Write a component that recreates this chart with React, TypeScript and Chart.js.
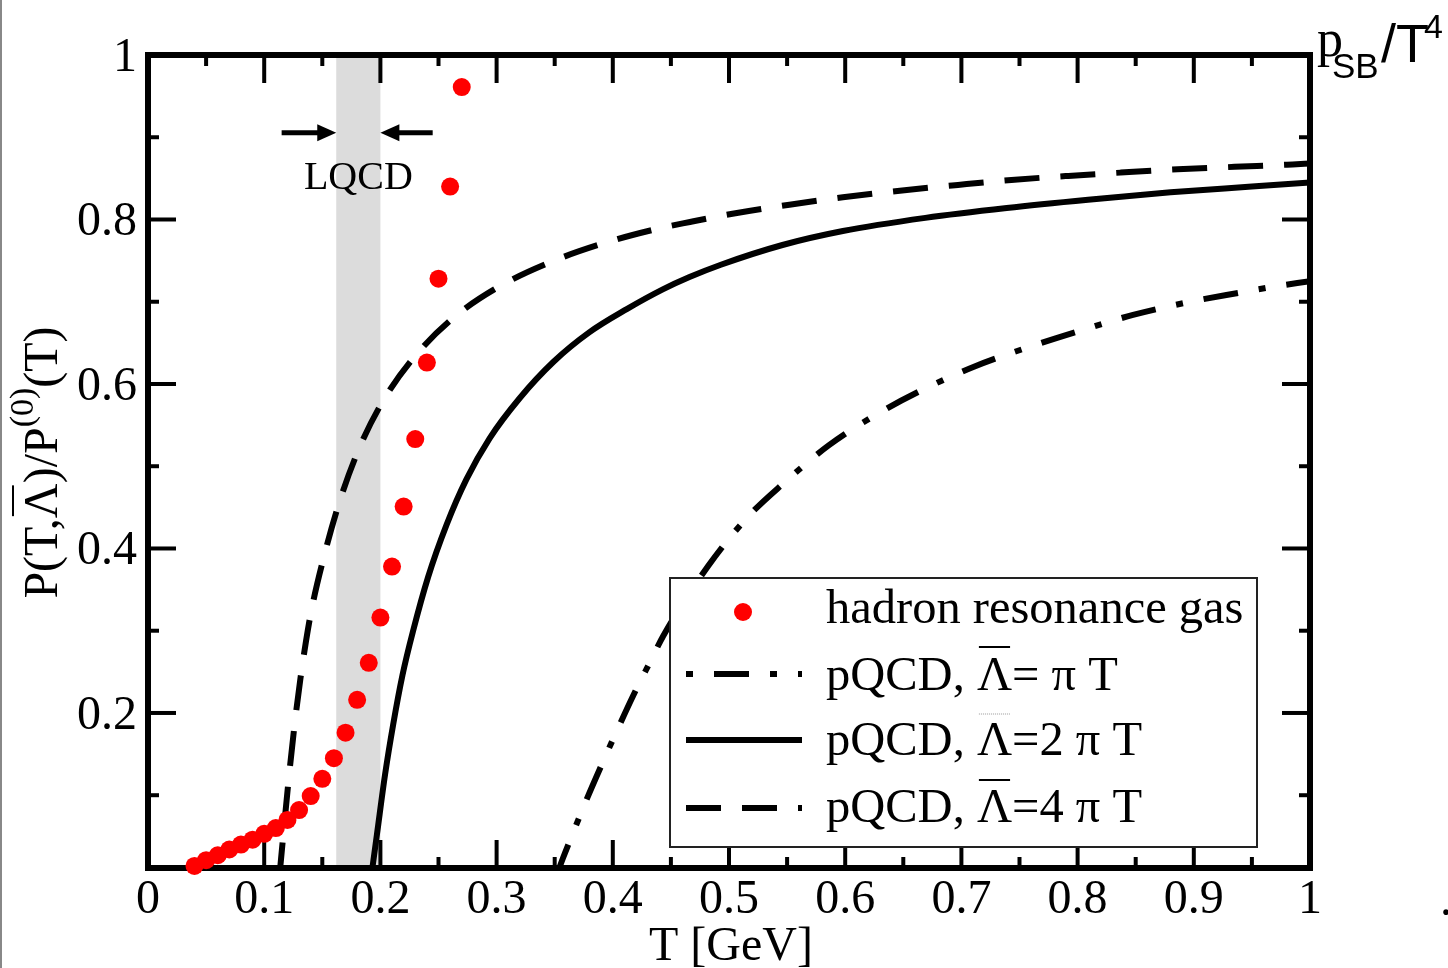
import React, { useEffect, useRef } from "react";
import { Chart, registerables } from "chart.js";

Chart.register(...registerables);

// ---------------- data ----------------
const HRG_T = [0.04, 0.05, 0.06, 0.07, 0.08, 0.09, 0.10, 0.11, 0.12, 0.13, 0.14, 0.15, 0.16, 0.17, 0.18, 0.19, 0.20, 0.21, 0.22, 0.23, 0.24, 0.25, 0.26, 0.27];
const HRG_P = [0.014, 0.021, 0.027, 0.034, 0.040, 0.046, 0.053, 0.060, 0.070, 0.082, 0.099, 0.120, 0.145, 0.176, 0.216, 0.261, 0.316, 0.378, 0.451, 0.533, 0.626, 0.728, 0.840, 0.961];

const PQCD1_T = [0.351, 0.357, 0.366, 0.3775, 0.3904, 0.4034, 0.4175, 0.4335, 0.4435, 0.4822, 0.5166, 0.5467, 0.5855, 0.6282, 0.6652, 0.7108, 0.7582, 0.8003, 0.8477, 0.8971, 0.9393, 0.9673, 1.0];
const PQCD1_P = [0.0, 0.023, 0.055, 0.095, 0.137, 0.178, 0.221, 0.266, 0.294, 0.379, 0.439, 0.479, 0.525, 0.564, 0.592, 0.621, 0.645, 0.664, 0.684, 0.700, 0.711, 0.718, 0.725];

const PQCD2_T = [0.192, 0.197, 0.204, 0.211, 0.219, 0.228, 0.241, 0.257, 0.274, 0.294, 0.320, 0.349, 0.380, 0.412, 0.443, 0.466, 0.493, 0.546, 0.598, 0.669, 0.739, 0.809, 0.880, 0.950, 1.0];
const PQCD2_P = [0.0, 0.052, 0.125, 0.186, 0.246, 0.299, 0.365, 0.429, 0.484, 0.534, 0.583, 0.627, 0.663, 0.691, 0.715, 0.730, 0.745, 0.769, 0.786, 0.802, 0.814, 0.824, 0.833, 0.840, 0.845];

const PQCD4_T = [0.113, 0.1175, 0.1215, 0.1265, 0.131, 0.136, 0.141, 0.1523, 0.1653, 0.1818, 0.2025, 0.2298, 0.2642, 0.3029, 0.346, 0.3918, 0.4392, 0.4664, 0.503, 0.552, 0.598, 0.647, 0.697, 0.743, 0.792, 0.837, 0.886, 0.935, 0.985, 1.0];
const PQCD4_P = [0.0, 0.0675, 0.1255, 0.19, 0.240, 0.2875, 0.3275, 0.395, 0.459, 0.522, 0.580, 0.634, 0.682, 0.719, 0.748, 0.771, 0.789, 0.797, 0.807, 0.818, 0.827, 0.835, 0.842, 0.848, 0.853, 0.857, 0.861, 0.864, 0.867, 0.868];

const X_MAJOR = [0, 0.1, 0.2, 0.3, 0.4, 0.5, 0.6, 0.7, 0.8, 0.9, 1.0];
const X_LABELS = ["0", "0.1", "0.2", "0.3", "0.4", "0.5", "0.6", "0.7", "0.8", "0.9", "1"];
const X_MINOR = [0.05, 0.15, 0.25, 0.35, 0.45, 0.55, 0.65, 0.75, 0.85, 0.95];
const Y_MAJOR = [0.2, 0.4, 0.6, 0.8, 1.0];
const Y_LABELS = ["0.2", "0.4", "0.6", "0.8", "1"];
const Y_MINOR = [0.1, 0.3, 0.5, 0.7, 0.9];

const LQCD_BAND = [0.162, 0.2];
const LQCD_ARROWS = [0.115, 0.245];
const LQCD_ARROW_Y = 0.9055;
const LQCD_TEXT_Y = 0.837;

const X_MIN = 0;
const X_MAX = 1;
const Y_MIN = 0.0115;
const Y_MAX = 1;

const SERIF = '"Liberation Serif", "Times New Roman", Times, serif';
const SANS = '"Liberation Sans", Arial, Helvetica, sans-serif';

const DASH = [35, 21];
const DASHDOT = [35, 21, 7, 21];

const pts = (xs: number[], ys: number[]) => xs.map((x, i) => ({ x, y: ys[i] }));

function drawLambdaText(ctx: any, pre: string, post: string, x: number, y: number, overOff: number, dotted = false) {
  ctx.fillText(pre, x, y);
  const w1 = ctx.measureText(pre).width;
  const lx = x + w1;
  ctx.fillText("\u039B", lx, y);
  const lw = ctx.measureText("\u039B").width;
  ctx.fillText(post, lx + lw, y);
  ctx.save();
  ctx.beginPath();
  if (dotted) {
    ctx.strokeStyle = "#999";
    ctx.lineWidth = 1;
    ctx.setLineDash([1, 1]);
  } else {
    ctx.strokeStyle = "#000";
    ctx.lineWidth = 2;
  }
  ctx.moveTo(lx + 2, y - overOff);
  ctx.lineTo(lx + lw - 2, y - overOff);
  ctx.stroke();
  ctx.restore();
}

const decor = {
  id: "decor",
  beforeDatasetsDraw(chart: any) {
    const { ctx, chartArea: a, scales } = chart;
    const x = scales.x, y = scales.y;
    ctx.save();
    // LQCD band
    const bx0 = x.getPixelForValue(LQCD_BAND[0]);
    const bx1 = x.getPixelForValue(LQCD_BAND[1]);
    ctx.fillStyle = "#dcdcdc";
    ctx.fillRect(bx0, a.top, bx1 - bx0, a.bottom - a.top);

    // frame
    ctx.strokeStyle = "#000";
    ctx.lineWidth = 6;
    ctx.lineJoin = "miter";
    ctx.strokeRect(a.left, a.top, a.right - a.left, a.bottom - a.top);

    // ticks
    ctx.lineWidth = 4;
    ctx.lineCap = "butt";
    const seg = (x1: number, y1: number, x2: number, y2: number) => {
      ctx.beginPath();
      ctx.moveTo(x1, y1);
      ctx.lineTo(x2, y2);
      ctx.stroke();
    };
    X_MAJOR.forEach((v) => {
      const px = x.getPixelForValue(v);
      seg(px, a.bottom, px, a.bottom - 28);
      seg(px, a.top, px, a.top + 28);
    });
    X_MINOR.forEach((v) => {
      const px = x.getPixelForValue(v);
      seg(px, a.bottom, px, a.bottom - 11);
      seg(px, a.top, px, a.top + 11);
    });
    Y_MAJOR.forEach((v) => {
      const py = y.getPixelForValue(v);
      seg(a.left, py, a.left + 28, py);
      seg(a.right, py, a.right - 28, py);
    });
    Y_MINOR.forEach((v) => {
      const py = y.getPixelForValue(v);
      seg(a.left, py, a.left + 11, py);
      seg(a.right, py, a.right - 11, py);
    });

    // arrows
    const ay = y.getPixelForValue(LQCD_ARROW_Y);
    const la = x.getPixelForValue(LQCD_ARROWS[0]);
    const ra = x.getPixelForValue(LQCD_ARROWS[1]);
    ctx.fillStyle = "#000";
    ctx.lineWidth = 5;
    seg(la, ay, bx0 - 16, ay);
    ctx.beginPath();
    ctx.moveTo(bx0, ay);
    ctx.lineTo(bx0 - 19, ay - 8.5);
    ctx.lineTo(bx0 - 19, ay + 8.5);
    ctx.closePath();
    ctx.fill();
    seg(ra, ay, bx1 + 16, ay);
    ctx.beginPath();
    ctx.moveTo(bx1, ay);
    ctx.lineTo(bx1 + 19, ay - 8.5);
    ctx.lineTo(bx1 + 19, ay + 8.5);
    ctx.closePath();
    ctx.fill();

    // LQCD label
    ctx.font = `40px ${SERIF}`;
    ctx.textAlign = "center";
    ctx.textBaseline = "alphabetic";
    ctx.fillText("LQCD", (bx0 + bx1) / 2, y.getPixelForValue(LQCD_TEXT_Y));
    ctx.restore();
  },
  afterDatasetsDraw(chart: any) {
    const { ctx, chartArea: a } = chart;
    ctx.save();
    const L = a.left + 522, T = a.top + 523, R = a.right - 53, B = a.bottom - 21;
    ctx.fillStyle = "#fff";
    ctx.fillRect(L, T, R - L, B - T);
    ctx.strokeStyle = "#222";
    ctx.lineWidth = 2;
    ctx.strokeRect(L, T, R - L, B - T);

    const sx0 = L + 16, sx1 = L + 132, tx = L + 156;
    const bases = [T + 45, T + 112, T + 177, T + 244];
    // row 1: dot
    ctx.fillStyle = "#ff0000";
    ctx.beginPath();
    ctx.arc(L + 73, T + 34, 9, 0, Math.PI * 2);
    ctx.fill();
    // rows 2-4: line samples
    ctx.strokeStyle = "#000";
    ctx.lineWidth = 6;
    ctx.lineCap = "butt";
    const sample = (yy: number, dash: number[]) => {
      ctx.setLineDash(dash);
      ctx.lineDashOffset = 0;
      ctx.beginPath();
      ctx.moveTo(sx0, yy);
      ctx.lineTo(sx1, yy);
      ctx.stroke();
    };
    sample(T + 96, [7, 21, 35, 21]);
    sample(T + 162, []);
    sample(T + 230, DASH);
    ctx.setLineDash([]);

    ctx.fillStyle = "#000";
    ctx.font = `48.5px ${SERIF}`;
    ctx.textAlign = "left";
    ctx.textBaseline = "alphabetic";
    ctx.fillText("hadron resonance gas", tx, bases[0]);
    drawLambdaText(ctx, "pQCD, ", "= \u03C0 T", tx, bases[1], 43);
    drawLambdaText(ctx, "pQCD, ", "=2 \u03C0 T", tx, bases[2], 41, true);
    drawLambdaText(ctx, "pQCD, ", "=4 \u03C0 T", tx, bases[3], 42);
    ctx.restore();
  },
  afterDraw(chart: any) {
    const { ctx, chartArea: a, scales } = chart;
    const x = scales.x, y = scales.y;
    ctx.save();
    ctx.fillStyle = "#000";
    ctx.font = `48px ${SERIF}`;
    ctx.textBaseline = "alphabetic";
    // x tick labels
    ctx.textAlign = "center";
    X_MAJOR.forEach((v, i) => ctx.fillText(X_LABELS[i], x.getPixelForValue(v), a.bottom + 45));
    // y tick labels
    ctx.textAlign = "right";
    Y_MAJOR.forEach((v, i) => ctx.fillText(Y_LABELS[i], a.left - 11, y.getPixelForValue(v) + 16));
    // x title
    ctx.textAlign = "center";
    ctx.fillText("T [GeV]", x.getPixelForValue(0.5) + 2, a.bottom + 92);

    // y title (rotated)
    ctx.save();
    ctx.textAlign = "left";
    const big = `48px ${SERIF}`, small = `34px ${SERIF}`;
    ctx.font = big;
    const wA = ctx.measureText("P(T,").width;
    const wL = ctx.measureText("\u039B").width;
    const wB = ctx.measureText(")/P").width;
    const wD = ctx.measureText("(T)").width;
    ctx.font = small;
    const wC = ctx.measureText("(0)").width;
    const total = wA + wL + wB + wC + wD;
    const cy = (a.top + a.bottom) / 2 + 1;
    ctx.translate(57, cy + total / 2);
    ctx.rotate(-Math.PI / 2);
    ctx.font = big;
    let cx = 0;
    ctx.fillText("P(T,", cx, 0); cx += wA;
    ctx.fillText("\u039B", cx, 0);
    ctx.fillRect(cx + 2, -45, wL - 4, 2);
    cx += wL;
    ctx.fillText(")/P", cx, 0); cx += wB;
    ctx.font = small;
    ctx.fillText("(0)", cx, -24); cx += wC;
    ctx.font = big;
    ctx.fillText("(T)", cx, 0);
    ctx.restore();

    // right-top label p_SB / T^4
    ctx.textAlign = "left";
    ctx.font = `52px ${SERIF}`;
    ctx.fillText("p", a.right + 7, 56);
    ctx.font = `35px ${SANS}`;
    ctx.fillText("SB", a.right + 22, 78);
    ctx.font = `54px ${SANS}`;
    ctx.fillText("/T", a.right + 71, 62);
    ctx.font = `34px ${SANS}`;
    ctx.fillText("4", a.right + 114, 38);

    // stray marks of the original figure
    ctx.font = `48px ${SERIF}`;
    ctx.fillText(".", 1440, 915);
    ctx.fillStyle = "#888";
    ctx.fillRect(0, 0, 2, chart.height);
    ctx.restore();
  },
};

export default function App() {
  const ref = useRef<HTMLCanvasElement | null>(null);
  useEffect(() => {
    if (!ref.current) return;
    const lineBase = {
      showLine: true,
      borderColor: "#000",
      backgroundColor: "#000",
      borderWidth: 6,
      pointRadius: 0,
      pointHoverRadius: 0,
      cubicInterpolationMode: "monotone",
      borderCapStyle: "butt",
      fill: false,
    };
    const chart = new Chart(ref.current, {
      type: "scatter",
      data: {
        datasets: [
          {
            label: "hadron resonance gas",
            data: pts(HRG_T, HRG_P),
            showLine: false,
            pointRadius: 9,
            pointBackgroundColor: "#ff0000",
            pointBorderColor: "#ff0000",
            pointBorderWidth: 0,
            clip: false,
          } as any,
          { ...lineBase, label: "pQCD, \u039B= \u03C0 T", data: pts(PQCD1_T, PQCD1_P), borderDash: DASHDOT } as any,
          { ...lineBase, label: "pQCD, \u039B=2 \u03C0 T", data: pts(PQCD2_T, PQCD2_P) } as any,
          { ...lineBase, label: "pQCD, \u039B=4 \u03C0 T", data: pts(PQCD4_T, PQCD4_P), borderDash: DASH } as any,
        ],
      },
      options: {
        responsive: false,
        animation: false,
        devicePixelRatio: 1,
        events: [],
        layout: { padding: { left: 148, top: 55, right: 138, bottom: 100 } },
        plugins: { legend: { display: false }, tooltip: { enabled: false } },
        scales: {
          x: { type: "linear", min: X_MIN, max: X_MAX, display: false },
          y: { type: "linear", min: Y_MIN, max: Y_MAX, display: false },
        },
      } as any,
      plugins: [decor],
    });
    return () => chart.destroy();
  }, []);
  return (
    <div style={{ position: "fixed", left: 0, top: 0, width: 1448, height: 968, background: "#fff" }}>
      <canvas ref={ref} width={1448} height={968} style={{ display: "block", width: 1448, height: 968 }} />
    </div>
  );
}
